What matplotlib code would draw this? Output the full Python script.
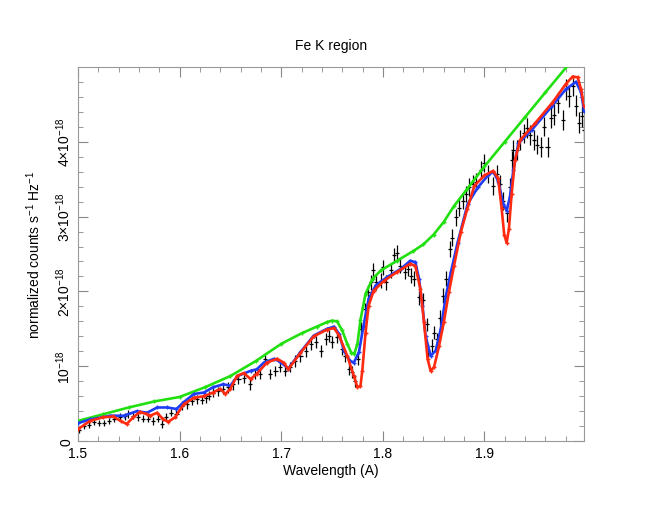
import matplotlib
matplotlib.use('Agg')
import matplotlib.pyplot as plt
from matplotlib.ticker import MultipleLocator

plt.rcParams['font.family'] = ['Liberation Sans', 'DejaVu Sans']
plt.rcParams['mathtext.default'] = 'regular'

# observed spectrum (wavelength in A, flux in units of 1e-18)
data_wl = [1.501, 1.506, 1.511, 1.516, 1.521, 1.526, 1.531, 1.536, 1.541, 1.546,
           1.5495, 1.5545, 1.559, 1.564, 1.569, 1.574, 1.579, 1.583, 1.587, 1.592,
           1.597, 1.602, 1.607, 1.612, 1.617, 1.622, 1.626, 1.6285, 1.633, 1.638,
           1.643, 1.648, 1.653, 1.658, 1.663, 1.6695, 1.6745, 1.6795, 1.6845, 1.6894,
           1.6944, 1.699, 1.704, 1.709, 1.714, 1.719, 1.724, 1.729, 1.734, 1.739,
           1.744, 1.7475, 1.750, 1.755, 1.760, 1.763, 1.7666, 1.770, 1.7725, 1.776,
           1.779, 1.782, 1.785, 1.788, 1.790, 1.793, 1.798, 1.800, 1.803, 1.808,
           1.811, 1.814, 1.8165, 1.8215, 1.8245, 1.828, 1.831, 1.836, 1.8396, 1.843,
           1.8446, 1.848, 1.8505, 1.853, 1.856, 1.8596, 1.862, 1.8658, 1.8685, 1.872,
           1.875, 1.8785, 1.882, 1.885, 1.8885, 1.892, 1.897, 1.900, 1.9035, 1.9085,
           1.912, 1.915, 1.9185, 1.922, 1.925, 1.9267, 1.9284, 1.9318, 1.935, 1.9385,
           1.942, 1.945, 1.9485, 1.9518, 1.9552, 1.9585, 1.962, 1.965, 1.9685, 1.972,
           1.977, 1.980, 1.9835, 1.9867, 1.990, 1.9927, 1.996, 1.998]
data_val = [0.15, 0.20, 0.21, 0.26, 0.24, 0.24, 0.27, 0.29, 0.32, 0.33,
            0.36, 0.34, 0.32, 0.30, 0.30, 0.27, 0.30, 0.23, 0.32, 0.38,
            0.36, 0.47, 0.49, 0.54, 0.56, 0.55, 0.57, 0.61, 0.65, 0.67,
            0.70, 0.72, 0.76, 0.83, 0.85, 0.76, 0.90, 0.90, 1.10, 0.90,
            0.94, 0.99, 0.94, 0.99, 1.07, 1.14, 1.21, 1.30, 1.32, 1.21,
            1.36, 1.41, 1.32, 1.39, 1.23, 1.14, 0.96, 0.92, 0.81, 1.10,
            1.50, 1.76, 1.99, 2.12, 2.28, 2.12, 2.14, 2.32, 2.12, 2.28,
            2.48, 2.52, 2.34, 2.26, 2.30, 2.21, 2.17, 1.92, 1.88, 1.56,
            1.21, 1.27, 1.45, 1.36, 1.65, 1.94, 2.17, 2.57, 2.72, 2.99,
            3.12, 3.21, 3.30, 3.39, 3.44, 3.46, 3.62, 3.71, 3.57, 3.41,
            3.57, 3.44, 3.21, 3.05, 3.39, 3.75, 3.89, 3.89, 4.02, 4.11,
            4.18, 4.09, 4.02, 3.96, 3.93, 4.20, 3.93, 4.32, 4.36, 4.52,
            4.29, 4.70, 4.61, 4.75, 4.48, 4.25, 4.34, 4.16]
data_err = [0.04, 0.04, 0.04, 0.04, 0.04, 0.04, 0.04, 0.04, 0.05, 0.05,
            0.05, 0.05, 0.05, 0.05, 0.05, 0.05, 0.05, 0.05, 0.05, 0.05,
            0.05, 0.06, 0.06, 0.06, 0.06, 0.06, 0.06, 0.06, 0.06, 0.06,
            0.07, 0.07, 0.07, 0.07, 0.07, 0.07, 0.07, 0.07, 0.08, 0.07,
            0.07, 0.07, 0.07, 0.07, 0.08, 0.08, 0.08, 0.08, 0.08, 0.08,
            0.08, 0.08, 0.08, 0.08, 0.08, 0.08, 0.08, 0.08, 0.08, 0.08,
            0.09, 0.09, 0.10, 0.10, 0.10, 0.10, 0.10, 0.10, 0.10, 0.10,
            0.10, 0.10, 0.10, 0.10, 0.10, 0.10, 0.10, 0.10, 0.10, 0.09,
            0.09, 0.09, 0.09, 0.09, 0.10, 0.10, 0.10, 0.11, 0.11, 0.11,
            0.11, 0.11, 0.11, 0.12, 0.12, 0.12, 0.12, 0.12, 0.12, 0.12,
            0.12, 0.12, 0.12, 0.12, 0.12, 0.12, 0.13, 0.13, 0.13, 0.13,
            0.13, 0.13, 0.13, 0.13, 0.13, 0.13, 0.13, 0.14, 0.14, 0.14,
            0.14, 0.14, 0.14, 0.14, 0.14, 0.14, 0.14, 0.14]
data_xerr = 0.002

# continuum model (green)
green_wl = [1.500, 1.525, 1.550, 1.575, 1.600, 1.625, 1.650, 1.675, 1.700, 1.720,
            1.735, 1.745, 1.750, 1.755, 1.760, 1.765, 1.769, 1.772, 1.775, 1.778,
            1.783, 1.790, 1.798, 1.814, 1.830, 1.840, 1.850, 1.860, 1.870, 1.883,
            1.900, 1.920, 1.940, 1.960, 1.982, 1.990]
green_val = [0.27, 0.36, 0.45, 0.53, 0.59, 0.72, 0.87, 1.07, 1.30, 1.44,
             1.53, 1.59, 1.61, 1.60, 1.48, 1.30, 1.18, 1.17, 1.30, 1.62,
             1.97, 2.17, 2.28, 2.41, 2.54, 2.63, 2.76, 2.93, 3.14, 3.37,
             3.67, 4.00, 4.33, 4.66, 5.02, 5.15]

# model 1 (blue)
blue_wl = [1.500, 1.512, 1.532, 1.545, 1.558, 1.568, 1.578, 1.588, 1.597, 1.604,
           1.614, 1.624, 1.633, 1.643, 1.650, 1.657, 1.670, 1.676, 1.683, 1.693,
           1.699, 1.707, 1.719, 1.732, 1.745, 1.752, 1.757, 1.762, 1.768, 1.7715,
           1.7765, 1.781, 1.786, 1.793, 1.804, 1.8175, 1.827, 1.832, 1.8356, 1.839,
           1.842, 1.847, 1.852, 1.857, 1.862, 1.867, 1.8735, 1.8835, 1.8935, 1.9035,
           1.9085, 1.9134, 1.9185, 1.9218, 1.925, 1.9284, 1.9334, 1.9467, 1.9667, 1.980,
           1.990, 1.995, 1.998]
blue_val = [0.24, 0.29, 0.34, 0.34, 0.40, 0.38, 0.45, 0.45, 0.43, 0.52,
            0.63, 0.65, 0.72, 0.76, 0.74, 0.87, 0.94, 0.96, 1.05, 1.10,
            1.06, 0.97, 1.19, 1.41, 1.50, 1.53, 1.43, 1.20, 1.07, 1.05,
            1.19, 1.54, 1.90, 2.08, 2.19, 2.30, 2.41, 2.39, 2.17, 1.81,
            1.41, 1.14, 1.21, 1.50, 1.94, 2.26, 2.65, 3.17, 3.39, 3.55,
            3.60, 3.48, 3.17, 3.08, 3.26, 3.62, 3.98, 4.16, 4.48, 4.70,
            4.80, 4.66, 4.41]

# model 2 (red)
red_wl = [1.500, 1.512, 1.525, 1.535, 1.542, 1.548, 1.5546, 1.561, 1.568, 1.571,
          1.578, 1.584, 1.589, 1.5957, 1.604, 1.614, 1.624, 1.633, 1.640, 1.645,
          1.650, 1.6565, 1.663, 1.670, 1.676, 1.686, 1.696, 1.7025, 1.707, 1.719,
          1.732, 1.745, 1.752, 1.757, 1.765, 1.7715, 1.775, 1.778, 1.7798, 1.783,
          1.786, 1.791, 1.801, 1.814, 1.827, 1.832, 1.837, 1.8405, 1.844, 1.847,
          1.8504, 1.8553, 1.860, 1.865, 1.870, 1.8767, 1.883, 1.890, 1.900, 1.9085,
          1.9134, 1.9168, 1.9194, 1.9218, 1.924, 1.9267, 1.930, 1.935, 1.950, 1.9667,
          1.980, 1.9867, 1.9917, 1.995, 1.998]
red_val = [0.16, 0.27, 0.32, 0.33, 0.27, 0.23, 0.32, 0.39, 0.36, 0.34,
           0.38, 0.29, 0.26, 0.32, 0.49, 0.58, 0.60, 0.65, 0.70, 0.63,
           0.70, 0.87, 0.91, 0.83, 0.90, 1.05, 1.10, 1.05, 0.96, 1.18,
           1.40, 1.49, 1.51, 1.41, 1.14, 0.87, 0.72, 0.74, 0.94, 1.45,
           1.81, 2.01, 2.14, 2.26, 2.37, 2.34, 2.03, 1.59, 1.10, 0.94,
           0.99, 1.27, 1.59, 1.99, 2.34, 2.79, 3.10, 3.41, 3.55, 3.61,
           3.51, 3.12, 2.76, 2.65, 2.83, 3.30, 3.75, 4.02, 4.25, 4.52,
           4.77, 4.87, 4.86, 4.70, 4.48]

yticks = [0, 1, 2, 3, 4]
ytick_labels = ['0', '10$^{-18}$', '2\u00d710$^{-18}$', '3\u00d710$^{-18}$', '4\u00d710$^{-18}$']

fig = plt.figure(figsize=(6.6, 5.1), dpi=100)
ax = fig.add_axes([0.118, 0.133, 0.767, 0.734])

ax.errorbar(data_wl, data_val, yerr=data_err, xerr=data_xerr, fmt='none',
            ecolor='black', elinewidth=0.9, capsize=0, zorder=2)
ax.plot(green_wl, green_val, color='#22e010', lw=1.9, marker='+', ms=3, mew=1, zorder=3)
ax.plot(blue_wl, blue_val, color='#1f3cf5', lw=1.9, marker='+', ms=3, mew=1, zorder=4)
ax.plot(red_wl, red_val, color='#ff2a10', lw=1.9, marker='+', ms=3, mew=1, zorder=5)

ax.set_xlim(1.5, 1.998)
ax.set_ylim(0, 5)
ax.xaxis.set_major_locator(MultipleLocator(0.1))
ax.xaxis.set_minor_locator(MultipleLocator(0.02))
ax.set_yticks(yticks)
ax.set_yticklabels(ytick_labels, rotation=90, va='center')
ax.yaxis.set_minor_locator(MultipleLocator(0.2))
ax.tick_params(which='both', direction='in', top=True, right=True, color='#888888',
               labelsize=10)
ax.tick_params(which='major', length=7)
ax.tick_params(which='minor', length=3.5)
for s in ax.spines.values():
    s.set_color('#999999')

ax.set_xlabel('Wavelength (A)', fontsize=10, labelpad=2)
ax.set_ylabel(r'normalized counts s$^{-1}$ Hz$^{-1}$', fontsize=10, labelpad=8)
ax.set_title('Fe K region', fontsize=10, pad=13)

fig.savefig('out.png', dpi=100)
